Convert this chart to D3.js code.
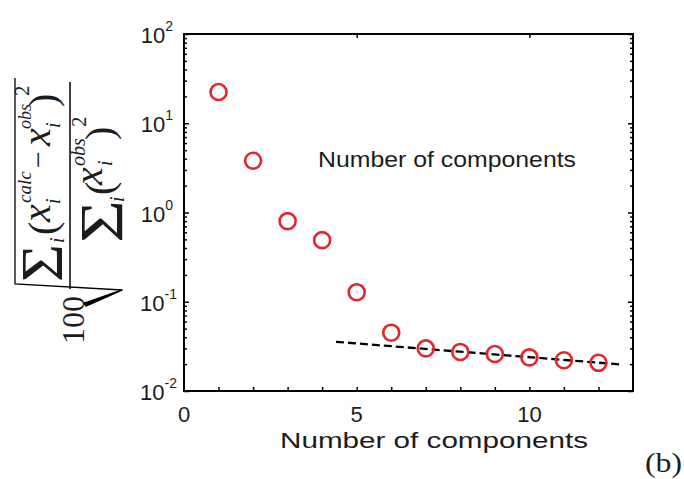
<!DOCTYPE html>
<html><head><meta charset="utf-8">
<script src="https://cdn.jsdelivr.net/npm/d3@7"></script>
<style>body{margin:0;background:#fff}svg{display:block}</style>
</head><body>
<script>
// ---- data ----
const components = [1,2,3,4,5,6,7,8,9,10,11,12];
const rmsValues = [22.4, 3.8, 0.80, 0.49, 0.128, 0.045, 0.030, 0.0274, 0.026, 0.0238, 0.0221, 0.0207];
const fitX = [4.4, 12.6];
const fitY = [0.0356, 0.0199];
const xTickLabels = [0, 5, 10];
const yTickExponents = [-2, -1, 0, 1, 2];
const xTitle = "Number of components";
const innerNote = "Number of components";
const panelTag = "(b)";

const W = 684, H = 479;
const svg = d3.select("body").append("svg").attr("width", W).attr("height", H);
const PL = 184, PR = 633, PT = 34, PB = 391;
const x = d3.scaleLinear().domain([0, 13]).range([PL, PR]);
const y = d3.scaleLog().domain([0.01, 100]).range([PB, PT]);
const ink = "#1c1c1c";

// ticks
const minorY = [];
for (let e = -2; e < 2; e++) for (let m = 1; m < 10; m++) minorY.push(m * Math.pow(10, e));
minorY.push(100);
const isMajor = v => Math.abs(Math.log10(v) - Math.round(Math.log10(v))) < 1e-9;

const axisG = svg.append("g");
const axB = d3.axisBottom(x).tickValues(d3.range(1, 13)).tickSizeInner(-4).tickSizeOuter(0).tickFormat("");
axisG.append("g").attr("transform", `translate(0,${PB})`).call(axB);
const axT = d3.axisTop(x).tickValues([5, 10]).tickSizeInner(-4).tickSizeOuter(0).tickFormat("");
axisG.append("g").attr("transform", `translate(0,${PT})`).call(axT);
const axL = d3.axisLeft(y).tickValues(minorY).tickSizeOuter(0).tickFormat("");
const lg = axisG.append("g").attr("transform", `translate(${PL},0)`).call(axL);
lg.selectAll(".tick line").attr("x2", d => isMajor(d) ? 5 : 3);
const axR = d3.axisRight(y).tickValues(minorY).tickSizeOuter(0).tickFormat("");
const rg = axisG.append("g").attr("transform", `translate(${PR},0)`).call(axR);
rg.selectAll(".tick line").attr("x2", d => isMajor(d) ? -5 : -3);
axisG.selectAll(".domain").remove();
axisG.selectAll(".tick line").attr("stroke", "#000").attr("stroke-width", 1.5);

// frame
svg.append("rect").attr("x", PL).attr("y", PT).attr("width", PR - PL).attr("height", PB - PT)
  .attr("fill", "none").attr("stroke", "#000").attr("stroke-width", 2);

// x tick labels
svg.append("g").selectAll("text").data(xTickLabels).join("text")
  .attr("x", d => x(d)).attr("y", 422).attr("text-anchor", "middle").attr("fill", ink)
  .attr("font-family", "Liberation Sans, Arial, sans-serif").attr("font-size", 22)
  .text(d => d);

// y tick labels
const yl = svg.append("g").selectAll("text").data(yTickExponents).join("text")
  .attr("x", d => d < 0 ? 177 : 173).attr("y", d => y(Math.pow(10, d)) + 9).attr("text-anchor", "end")
  .attr("fill", ink).attr("font-family", "Liberation Sans, Arial, sans-serif").attr("font-size", 22);
yl.append("tspan").text("10");
yl.append("tspan").attr("font-size", 14).attr("dy", -12).text(d => d);

// x title
svg.append("text").attr("x", 280).attr("y", 448).attr("textLength", 308).attr("lengthAdjust", "spacingAndGlyphs")
  .attr("fill", ink).attr("font-family", "Liberation Sans, Arial, sans-serif").attr("font-size", 22).text(xTitle);
// inner note
svg.append("text").attr("x", 318).attr("y", 167).attr("textLength", 258).attr("lengthAdjust", "spacingAndGlyphs")
  .attr("fill", ink).attr("font-family", "Liberation Sans, Arial, sans-serif").attr("font-size", 22).text(innerNote);
// panel tag
svg.append("text").attr("x", 645).attr("y", 472).attr("textLength", 37).attr("lengthAdjust", "spacingAndGlyphs")
  .attr("fill", ink).attr("font-family", "Liberation Serif, Times New Roman, serif").attr("font-size", 27).text(panelTag);

// fit line
svg.append("path").datum(fitX.map((d, i) => [d, fitY[i]]))
  .attr("d", d3.line().x(d => x(d[0])).y(d => y(d[1])))
  .attr("fill", "none").attr("stroke", "#000").attr("stroke-width", 2.3).attr("stroke-dasharray", "8,4");

// points
svg.append("g").selectAll("circle").data(components).join("circle")
  .attr("cx", d => x(d)).attr("cy", (d, i) => y(rmsValues[i])).attr("r", 8)
  .attr("fill", "none").attr("stroke", "#e3262b").attr("stroke-width", 2.6);

// y label (rotated math expression). pieces: [text, yStart(orig), baselineX(orig), size, italic, length]
const lab = svg.append("g").attr("transform", "rotate(-90)").attr("fill", ink)
  .attr("font-family", "Liberation Serif, Times New Roman, serif");
const pieces = [
  ["\u03A3", 282, 62, 60, false, 38],
  ["i", 243, 64, 20, true, 0],
  ["(", 235, 56, 40, false, 0],
  ["x", 222, 50, 40, true, 0],
  ["i", 204, 60, 20, true, 0],
  ["calc", 203, 31, 19, true, 0],
  ["\u2212", 168, 48, 30, false, 0],
  ["x", 146, 50, 40, true, 0],
  ["i", 128, 60, 20, true, 0],
  ["obs", 129, 31, 18, true, 0],
  [")", 107, 56, 40, false, 0],
  ["2", 96, 29, 21, false, 0],
  ["\u03A3", 243, 122, 62, false, 43],
  ["i", 202, 124, 20, true, 0],
  ["(", 195, 113, 40, false, 0],
  ["x", 185, 102, 40, true, 0],
  ["i", 166, 112, 20, true, 0],
  ["obs", 166, 85, 20, true, 0],
  [")", 140, 113, 40, false, 0],
  ["2", 127, 86, 21, false, 0],
  ["100", 344, 84, 32, false, 0]
];
pieces.forEach(p => {
  const t = lab.append("text").attr("x", -p[1]).attr("y", p[2]).attr("font-size", p[3])
    .attr("font-style", p[4] ? "italic" : "normal").text(p[0]);
  if (p[5]) t.attr("textLength", p[5]).attr("lengthAdjust", "spacingAndGlyphs");
});
// fraction bar and radical
svg.append("line").attr("x1", 70).attr("x2", 70).attr("y1", 82).attr("y2", 289).attr("stroke", "#000").attr("stroke-width", 1.5);
svg.append("path").attr("d", "M15,78 L15,284 L122,290")
  .attr("fill", "none").attr("stroke", "#000").attr("stroke-width", 1.3);
svg.append("path").attr("d", "M122,290 L86,306 L84,303 L88,302 Z")
  .attr("fill", "#000").attr("stroke", "#000").attr("stroke-width", 1.5).attr("stroke-linejoin", "round");
</script>
</body></html>
